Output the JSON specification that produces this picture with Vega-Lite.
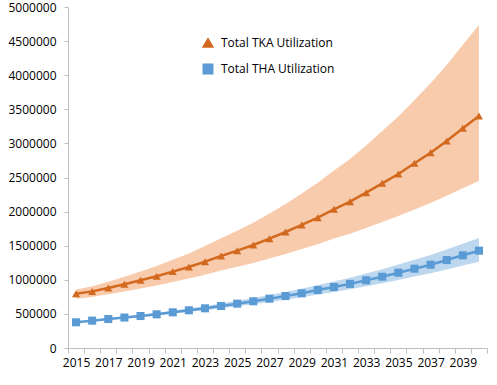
{
  "$schema": "https://vega.github.io/schema/vega-lite/v6.json",
  "width": 419,
  "height": 341,
  "autosize": "none",
  "padding": {"left": 68, "top": 7, "right": 10, "bottom": 37},
  "background": "white",
  "config": {
    "view": {"stroke": null},
    "font": "Open Sans",
    "axis": {
      "labelFont": "Open Sans",
      "labelFontSize": 12,
      "labelColor": "#000000",
      "domainColor": "#BFBFBF",
      "tickColor": "#BFBFBF",
      "grid": false,
      "title": null
    }
  },
  "data": {
    "values": [
      {"year": "2015", "series": "Total TKA Utilization", "v": 795000, "lo": 723000, "hi": 859000},
      {"year": "2016", "series": "Total TKA Utilization", "v": 830000, "lo": 749000, "hi": 907000},
      {"year": "2017", "series": "Total TKA Utilization", "v": 880000, "lo": 787000, "hi": 972000},
      {"year": "2018", "series": "Total TKA Utilization", "v": 934000, "lo": 829000, "hi": 1044000},
      {"year": "2019", "series": "Total TKA Utilization", "v": 993000, "lo": 873000, "hi": 1122000},
      {"year": "2020", "series": "Total TKA Utilization", "v": 1052000, "lo": 917000, "hi": 1202000},
      {"year": "2021", "series": "Total TKA Utilization", "v": 1120000, "lo": 968000, "hi": 1294000},
      {"year": "2022", "series": "Total TKA Utilization", "v": 1188000, "lo": 1018000, "hi": 1387000},
      {"year": "2023", "series": "Total TKA Utilization", "v": 1266000, "lo": 1075000, "hi": 1494000},
      {"year": "2024", "series": "Total TKA Utilization", "v": 1349000, "lo": 1135000, "hi": 1609000},
      {"year": "2025", "series": "Total TKA Utilization", "v": 1427000, "lo": 1190000, "hi": 1720000},
      {"year": "2026", "series": "Total TKA Utilization", "v": 1510000, "lo": 1248000, "hi": 1838000},
      {"year": "2027", "series": "Total TKA Utilization", "v": 1603000, "lo": 1313000, "hi": 1972000},
      {"year": "2028", "series": "Total TKA Utilization", "v": 1701000, "lo": 1380000, "hi": 2113000},
      {"year": "2029", "series": "Total TKA Utilization", "v": 1804000, "lo": 1450000, "hi": 2264000},
      {"year": "2030", "series": "Total TKA Utilization", "v": 1911000, "lo": 1521000, "hi": 2422000},
      {"year": "2031", "series": "Total TKA Utilization", "v": 2034000, "lo": 1604000, "hi": 2604000},
      {"year": "2032", "series": "Total TKA Utilization", "v": 2145000, "lo": 1675000, "hi": 2772000},
      {"year": "2033", "series": "Total TKA Utilization", "v": 2277000, "lo": 1761000, "hi": 2971000},
      {"year": "2034", "series": "Total TKA Utilization", "v": 2415000, "lo": 1849000, "hi": 3182000},
      {"year": "2035", "series": "Total TKA Utilization", "v": 2551000, "lo": 1934000, "hi": 3393000},
      {"year": "2036", "series": "Total TKA Utilization", "v": 2708000, "lo": 2032000, "hi": 3635000},
      {"year": "2037", "series": "Total TKA Utilization", "v": 2864000, "lo": 2127000, "hi": 3881000},
      {"year": "2038", "series": "Total TKA Utilization", "v": 3035000, "lo": 2231000, "hi": 4150000},
      {"year": "2039", "series": "Total TKA Utilization", "v": 3222000, "lo": 2344000, "hi": 4446000},
      {"year": "2040", "series": "Total TKA Utilization", "v": 3402000, "lo": 2449000, "hi": 4737000},
      {"year": "2015", "series": "Total THA Utilization", "v": 377000, "lo": 369000, "hi": 385000},
      {"year": "2016", "series": "Total THA Utilization", "v": 401000, "lo": 391000, "hi": 411000},
      {"year": "2017", "series": "Total THA Utilization", "v": 425000, "lo": 413000, "hi": 437000},
      {"year": "2018", "series": "Total THA Utilization", "v": 447000, "lo": 433000, "hi": 462000},
      {"year": "2019", "series": "Total THA Utilization", "v": 469000, "lo": 452000, "hi": 487000},
      {"year": "2020", "series": "Total THA Utilization", "v": 494000, "lo": 475000, "hi": 515000},
      {"year": "2021", "series": "Total THA Utilization", "v": 523000, "lo": 501000, "hi": 547000},
      {"year": "2022", "series": "Total THA Utilization", "v": 553000, "lo": 527000, "hi": 581000},
      {"year": "2023", "series": "Total THA Utilization", "v": 582000, "lo": 553000, "hi": 614000},
      {"year": "2024", "series": "Total THA Utilization", "v": 616000, "lo": 583000, "hi": 653000},
      {"year": "2025", "series": "Total THA Utilization", "v": 650000, "lo": 612000, "hi": 692000},
      {"year": "2026", "series": "Total THA Utilization", "v": 685000, "lo": 643000, "hi": 732000},
      {"year": "2027", "series": "Total THA Utilization", "v": 723000, "lo": 676000, "hi": 776000},
      {"year": "2028", "series": "Total THA Utilization", "v": 762000, "lo": 709000, "hi": 821000},
      {"year": "2029", "series": "Total THA Utilization", "v": 802000, "lo": 743000, "hi": 867000},
      {"year": "2030", "series": "Total THA Utilization", "v": 850000, "lo": 785000, "hi": 923000},
      {"year": "2031", "series": "Total THA Utilization", "v": 894000, "lo": 822000, "hi": 975000},
      {"year": "2032", "series": "Total THA Utilization", "v": 940000, "lo": 860000, "hi": 1029000},
      {"year": "2033", "series": "Total THA Utilization", "v": 993000, "lo": 905000, "hi": 1092000},
      {"year": "2034", "series": "Total THA Utilization", "v": 1045000, "lo": 949000, "hi": 1153000},
      {"year": "2035", "series": "Total THA Utilization", "v": 1104000, "lo": 998000, "hi": 1223000},
      {"year": "2036", "series": "Total THA Utilization", "v": 1163000, "lo": 1047000, "hi": 1294000},
      {"year": "2037", "series": "Total THA Utilization", "v": 1221000, "lo": 1095000, "hi": 1364000},
      {"year": "2038", "series": "Total THA Utilization", "v": 1290000, "lo": 1151000, "hi": 1446000},
      {"year": "2039", "series": "Total THA Utilization", "v": 1359000, "lo": 1208000, "hi": 1530000},
      {"year": "2040", "series": "Total THA Utilization", "v": 1427000, "lo": 1263000, "hi": 1613000}
    ]
  },
  "encoding": {
    "x": {
      "field": "year",
      "type": "ordinal",
      "scale": {"type": "band", "paddingInner": 0, "paddingOuter": 0},
      "axis": {
        "labelAngle": 0,
        "tickBand": "extent",
        "tickSize": 5,
        "labelPadding": 4,
        "labelOverlap": false,
        "labelExpr": "toNumber(datum.value) % 2 == 1 ? datum.value : ''"
      }
    },
    "y": {
      "field": "v",
      "type": "quantitative",
      "scale": {"domain": [0, 5000000], "nice": false, "zero": true},
      "axis": {"values": [0, 500000, 1000000, 1500000, 2000000, 2500000, 3000000, 3500000, 4000000, 4500000, 5000000], "format": "d", "tickSize": 4, "labelPadding": 8, "labelOverlap": false}
    }
  },
  "layer": [
    {
      "mark": {"type": "area", "opacity": 1},
      "encoding": {
        "y": {
          "field": "lo",
          "type": "quantitative",
          "scale": {"domain": [0, 5000000], "nice": false, "zero": true},
          "axis": {"values": [0, 500000, 1000000, 1500000, 2000000, 2500000, 3000000, 3500000, 4000000, 4500000, 5000000], "format": "d", "tickSize": 4, "labelPadding": 8, "labelOverlap": false}
        },
        "y2": {"field": "hi"},
        "fill": {
          "field": "series",
          "type": "nominal",
          "scale": {"domain": ["Total THA Utilization", "Total TKA Utilization"], "range": ["#BDD7EE", "#F8CBAD"]},
          "legend": null
        }
      }
    },
    {
      "mark": {"type": "line", "strokeWidth": 2.5, "point": {"filled": true, "size": 65, "opacity": 1}},
      "encoding": {
        "shape": {
          "field": "series",
          "type": "nominal",
          "scale": {"domain": ["Total TKA Utilization", "Total THA Utilization"], "range": ["triangle-up", "square"]}
        },
        "color": {
          "field": "series",
          "type": "nominal",
          "scale": {"domain": ["Total TKA Utilization", "Total THA Utilization"], "range": ["#D2691E", "#5B9BD5"]},
          "legend": {
            "title": null,
            "orient": "none",
            "legendX": 134,
            "legendY": 30,
            "padding": 0,
            "symbolSize": 80,
            "symbolStrokeWidth": 2,
            "labelOffset": 7,
            "rowPadding": 9,
            "labelFont": "Open Sans",
            "labelFontSize": 12,
            "labelColor": "#000000"
          }
        }
      }
    }
  ]
}
